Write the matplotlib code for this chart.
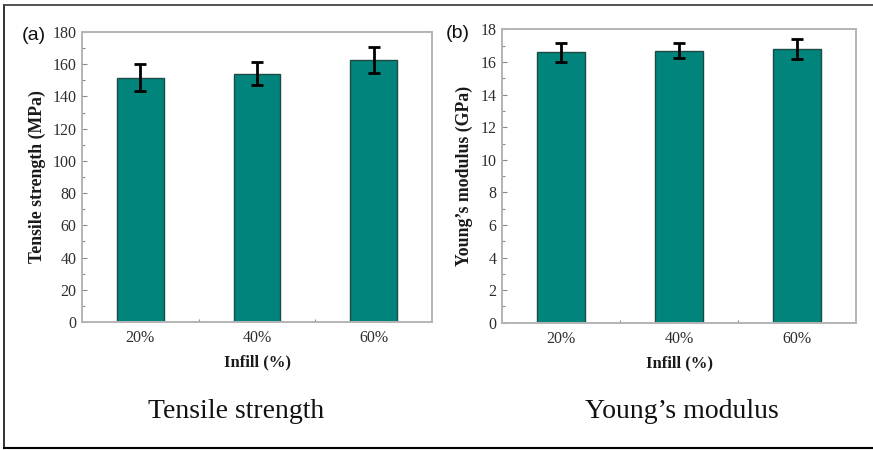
import matplotlib
matplotlib.use("Agg")
import matplotlib.pyplot as plt
from matplotlib.ticker import MultipleLocator, FixedLocator
import numpy as np

# Data
infill = ["20%", "40%", "60%"]
tensile_mean = [151.6, 154.1, 162.6]
tensile_err = [8.5, 7.3, 8.0]
modulus_mean = [16.6, 16.7, 16.8]
modulus_err = [0.6, 0.45, 0.6]

W, H = 873, 450
fig = plt.figure(figsize=(W / 100, H / 100), dpi=100)
fig.patch.set_facecolor("white")

serif = ["Liberation Serif", "DejaVu Serif"]
bar_color = "#00847c"
edge_color = "#1d4a45"
spine_color = "#b4b4b4"
tick_color = "#2e2e2e"


def px_axes(l, t, r, b):
    return [l / W, 1 - b / H, (r - l) / W, (b - t) / H]


def style_axes(ax, ymax, ymajor, yminor, ylabel):
    x = np.arange(len(infill))
    ax.set_xlim(-0.5, 2.5)
    ax.set_ylim(0, ymax)
    ax.yaxis.set_major_locator(MultipleLocator(ymajor))
    ax.yaxis.set_minor_locator(MultipleLocator(yminor))
    ax.xaxis.set_major_locator(FixedLocator(x))
    ax.xaxis.set_minor_locator(FixedLocator(x[:-1] + 0.5))
    ax.set_xticklabels(infill)
    for s in ax.spines.values():
        s.set_color(spine_color)
        s.set_linewidth(1.4)
    ax.tick_params(which="both", direction="in", color="#8a8a8a", width=0.8)
    ax.tick_params(which="major", length=3.5)
    ax.tick_params(which="minor", length=2)
    ax.tick_params(axis="x", which="both", length=2.5)
    ax.tick_params(axis="y", pad=4)
    ax.tick_params(axis="x", pad=6)
    for lab in ax.get_xticklabels() + ax.get_yticklabels():
        lab.set_fontfamily(serif)
        lab.set_fontsize(11.5)
        lab.set_color(tick_color)
    ax.set_xlabel("Infill (%)", fontfamily=serif, fontweight="bold",
                  fontsize=12, color="#1a1a1a", labelpad=6)
    ax.set_ylabel(ylabel, fontfamily=serif, fontweight="bold",
                  fontsize=12.8, color="#1a1a1a", labelpad=5)


def draw_bars(ax, means, errs):
    x = np.arange(len(infill))
    ax.bar(x, means, width=0.40, color=bar_color, edgecolor=edge_color,
           linewidth=1.0, zorder=2)
    ax.errorbar(x, means, yerr=errs, fmt="none", ecolor="black",
                elinewidth=2.0, capsize=4.2, capthick=2.0, zorder=3)


ax1 = fig.add_axes(px_axes(82, 32, 432, 322))
draw_bars(ax1, tensile_mean, tensile_err)
style_axes(ax1, 180, 20, 10, "Tensile strength (MPa)")

ax2 = fig.add_axes(px_axes(502, 29.5, 856, 322.7))
draw_bars(ax2, modulus_mean, modulus_err)
style_axes(ax2, 18, 2, 1, "Young\u2019s modulus (GPa)")

# Panel letters
fig.text(34 / W, 1 - 35 / H, "(a)", fontfamily="Liberation Sans",
         fontsize=14, ha="center", va="center", color="#111111")
fig.text(458 / W, 1 - 34 / H, "(b)", fontfamily="Liberation Sans",
         fontsize=14, ha="center", va="center", color="#111111")

# Captions under each panel
fig.text(236 / W, 1 - 411 / H, "Tensile strength", fontfamily=serif,
         fontsize=20, ha="center", va="center", color="#111111")
fig.text(682 / W, 1 - 411 / H, "Young\u2019s modulus", fontfamily=serif,
         fontsize=20, ha="center", va="center", color="#111111")

# Frame around the figure (open on the right side)
fig.add_artist(plt.Line2D([4 / W, 4 / W], [1 - 4.5 / H, 1 - 447.5 / H],
                          transform=fig.transFigure, color="#222222", lw=1.3))
fig.add_artist(plt.Line2D([4 / W, 1], [1 - 4.5 / H, 1 - 4.5 / H],
                          transform=fig.transFigure, color="#444444", lw=1.3))
fig.add_artist(plt.Line2D([4 / W, 1], [1 - 447.5 / H, 1 - 447.5 / H],
                          transform=fig.transFigure, color="#000000", lw=1.5))

fig.savefig("out.png", dpi=100, facecolor="white")
